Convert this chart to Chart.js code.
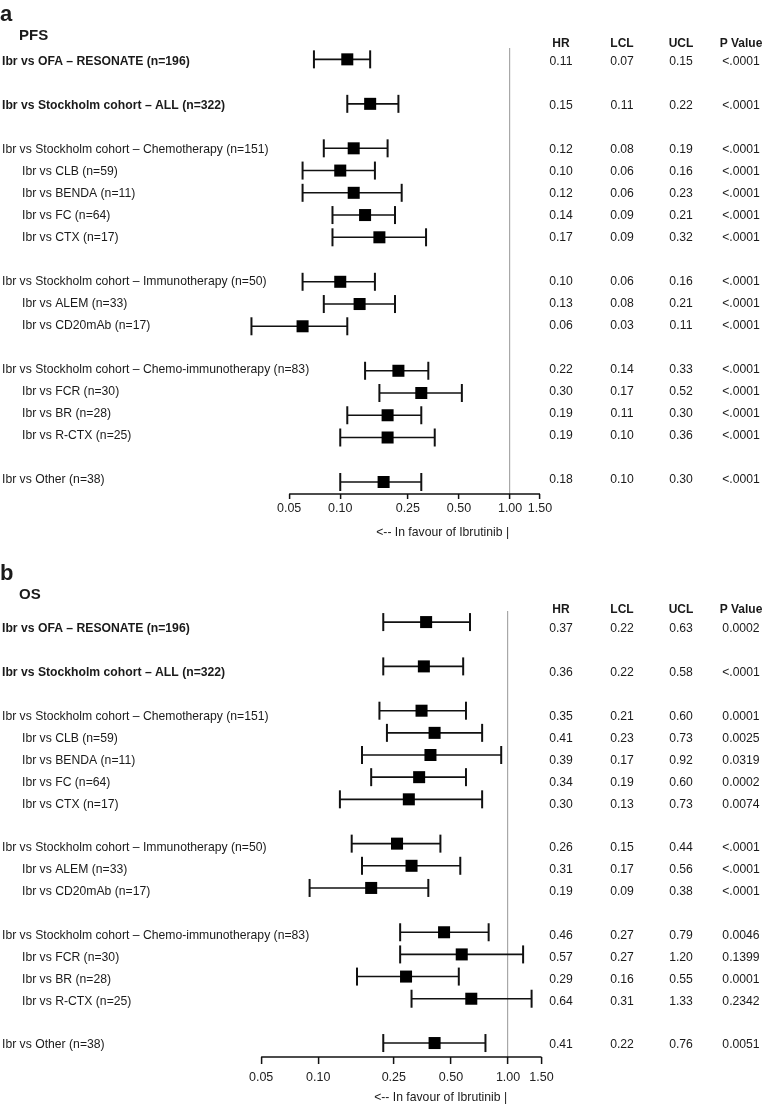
<!DOCTYPE html>
<html>
<head>
<meta charset="utf-8">
<script src="https://cdn.jsdelivr.net/npm/chart.js@4.4.1/dist/chart.umd.min.js"></script>
<style>
  html, body { margin: 0; padding: 0; background: #fff; }
  .panel { position: absolute; left: 0; }
</style>
</head>
<body>
<div class="panel" style="top:0"><canvas id="pfsChart" width="768" height="553"></canvas></div>
<div class="panel" style="top:553px"><canvas id="osChart" width="768" height="554"></canvas></div>
<script>
// rows of the forest plot ('' = blank spacer row)
const rowLabels = [
    'Ibr vs OFA \u2013 RESONATE (n=196)', '',
    'Ibr vs Stockholm cohort \u2013 ALL (n=322)', '',
    'Ibr vs Stockholm cohort \u2013 Chemotherapy (n=151)',
    'Ibr vs CLB (n=59)',
    'Ibr vs BENDA (n=11)',
    'Ibr vs FC (n=64)',
    'Ibr vs CTX (n=17)', '',
    'Ibr vs Stockholm cohort \u2013 Immunotherapy (n=50)',
    'Ibr vs ALEM (n=33)',
    'Ibr vs CD20mAb (n=17)', '',
    'Ibr vs Stockholm cohort \u2013 Chemo-immunotherapy (n=83)',
    'Ibr vs FCR (n=30)',
    'Ibr vs BR (n=28)',
    'Ibr vs R-CTX (n=25)', '',
    'Ibr vs Other (n=38)'
];
const boldRows = [0, 2];
const subRows = [5, 6, 7, 8, 11, 12, 15, 16, 17];
const xTicks = [0.05, 0.10, 0.25, 0.50, 1.00, 1.50];
const tableHeaders = ['HR', 'LCL', 'UCL', 'P Value'];

// PFS
const pfsHR  = [0.11, null, 0.15, null, 0.12, 0.10, 0.12, 0.14, 0.17, null, 0.10, 0.13, 0.06, null, 0.22, 0.30, 0.19, 0.19, null, 0.18];
const pfsLCL = [0.07, null, 0.11, null, 0.08, 0.06, 0.06, 0.09, 0.09, null, 0.06, 0.08, 0.03, null, 0.14, 0.17, 0.11, 0.10, null, 0.10];
const pfsUCL = [0.15, null, 0.22, null, 0.19, 0.16, 0.23, 0.21, 0.32, null, 0.16, 0.21, 0.11, null, 0.33, 0.52, 0.30, 0.36, null, 0.30];
const pfsP   = ['<.0001', '', '<.0001', '', '<.0001', '<.0001', '<.0001', '<.0001', '<.0001', '', '<.0001', '<.0001', '<.0001', '', '<.0001', '<.0001', '<.0001', '<.0001', '', '<.0001'];

// OS
const osHR  = [0.37, null, 0.36, null, 0.35, 0.41, 0.39, 0.34, 0.30, null, 0.26, 0.31, 0.19, null, 0.46, 0.57, 0.29, 0.64, null, 0.41];
const osLCL = [0.22, null, 0.22, null, 0.21, 0.23, 0.17, 0.19, 0.13, null, 0.15, 0.17, 0.09, null, 0.27, 0.27, 0.16, 0.31, null, 0.22];
const osUCL = [0.63, null, 0.58, null, 0.60, 0.73, 0.92, 0.60, 0.73, null, 0.44, 0.56, 0.38, null, 0.79, 1.20, 0.55, 1.33, null, 0.76];
const osP   = ['0.0002', '', '<.0001', '', '0.0001', '0.0025', '0.0319', '0.0002', '0.0074', '', '<.0001', '<.0001', '<.0001', '', '0.0046', '0.1399', '0.0001', '0.2342', '', '0.0051'];

const FONT = '"Liberation Sans", Arial, Helvetica, sans-serif';
const INK = '#1a1a1a';
const colX = [561, 622, 681, 741];

// texte : libellés, tableau, titres
const forestText = {
    id: 'forestText',
    afterDraw(chart, args, o) {
        const ctx = chart.ctx, ys = chart.scales.y, xs = chart.scales.x;
        ctx.save();
        ctx.fillStyle = INK;
        ctx.textBaseline = 'alphabetic';
        ctx.textAlign = 'left';
        ctx.font = 'bold 22px ' + FONT;
        ctx.fillText(o.letter, 0, o.letterY);
        ctx.font = 'bold 15px ' + FONT;
        ctx.fillText(o.title, 19, o.titleY);

        ctx.textAlign = 'center';
        ctx.font = 'bold 12px ' + FONT;
        tableHeaders.forEach((h, k) => ctx.fillText(h, colX[k], o.headerY));

        ctx.textBaseline = 'middle';
        const n = rowLabels.length - 1;
        rowLabels.forEach((lab, i) => {
            if (!lab) return;
            const shift = o.shiftTop + (o.shiftBottom - o.shiftTop) * i / n;
            const py = ys.getPixelForValue(i) + shift;
            ctx.textAlign = 'left';
            ctx.font = (boldRows.includes(i) ? 'bold ' : '') + '12.2px ' + FONT;
            ctx.fillText(lab, subRows.includes(i) ? 22 : 2, py);
            ctx.textAlign = 'center';
            ctx.font = '12.2px ' + FONT;
            [o.hr[i].toFixed(2), o.lcl[i].toFixed(2), o.ucl[i].toFixed(2), o.p[i]]
                .forEach((v, k) => ctx.fillText(v, colX[k], py));
        });

        ctx.textAlign = 'right';
        ctx.textBaseline = 'alphabetic';
        ctx.font = '12.2px ' + FONT;
        ctx.fillText('<-- In favour of Ibrutinib |', xs.getPixelForValue(1) - 1, o.axisTitleY);
        ctx.restore();
    }
};

function buildDatasets(hr, lcl, ucl, yMax) {
    const ds = [];
    // HR squares (first = drawn on top)
    ds.push({
        data: hr.map((v, i) => v == null ? null : { x: v, y: i }).filter(p => p),
        showLine: false,
        pointStyle: 'rect',
        pointRadius: 8.5,
        pointBackgroundColor: '#000',
        pointBorderWidth: 0,
        clip: false
    });
    // confidence intervals
    lcl.forEach((v, i) => {
        if (v == null) return;
        ds.push({
            data: [{ x: v, y: i }, { x: ucl[i], y: i }],
            showLine: true,
            borderColor: '#111',
            borderWidth: 1.6,
            pointStyle: 'line',
            rotation: 90,
            pointRadius: 9,
            pointBorderWidth: 2,
            pointBorderColor: '#111',
            clip: false
        });
    });
    // x axis line from 0.05 to 1.50
    ds.push({
        data: [{ x: xTicks[0], y: yMax }, { x: xTicks[xTicks.length - 1], y: yMax }],
        showLine: true,
        borderColor: '#111',
        borderWidth: 1.5,
        pointRadius: 0,
        clip: false
    });
    return ds;
}

function makeChart(id, p) {
    const ctx = document.getElementById(id).getContext('2d');
    return new Chart(ctx, {
        type: 'scatter',
        data: { datasets: buildDatasets(p.hr, p.lcl, p.ucl, p.yMax) },
        plugins: [forestText],
        options: {
            responsive: false,
            devicePixelRatio: 1,
            animation: false,
            events: [],
            layout: { padding: { left: p.left, right: p.right, top: p.top, bottom: 0 } },
            scales: {
                x: {
                    type: 'logarithmic',
                    min: 0.025,
                    max: 1.5,
                    afterBuildTicks: s => { s.ticks = xTicks.map(v => ({ value: v })); },
                    afterFit: s => { s.height = p.axisH; },
                    border: { display: false },
                    grid: {
                        drawOnChartArea: true,
                        drawTicks: true,
                        tickLength: p.tickLen,
                        color: c => (c.tick && c.tick.value === 1) ? '#a8a8a8' : 'rgba(0,0,0,0)',
                        tickColor: '#111',
                        tickWidth: 1.5,
                        lineWidth: 1.2
                    },
                    ticks: {
                        autoSkip: false,
                        maxRotation: 0,
                        padding: p.tickPad,
                        color: '#222',
                        font: { family: FONT, size: 12.5 },
                        callback: v => Number(v).toFixed(2)
                    }
                },
                y: {
                    type: 'linear',
                    display: false,
                    reverse: true,
                    min: p.yMin,
                    max: p.yMax
                }
            },
            plugins: {
                legend: { display: false },
                tooltip: { enabled: false },
                forestText: p.text
            }
        }
    });
}

// Panel a : PFS
makeChart('pfsChart', {
    hr: pfsHR, lcl: pfsLCL, ucl: pfsUCL,
    left: 238, right: 228, top: 48, axisH: 59, tickLen: 5, tickPad: 2,
    yMin: -0.51, yMax: 19.54,
    text: { letter: 'a', letterY: 21, title: 'PFS', titleY: 40, headerY: 47,
            shiftTop: 2, shiftBottom: -2, axisTitleY: 536,
            hr: pfsHR, lcl: pfsLCL, ucl: pfsUCL, p: pfsP }
});

// Panel b : OS
makeChart('osChart', {
    hr: osHR, lcl: osLCL, ucl: osUCL,
    left: 204, right: 226.5, top: 58, axisH: 50, tickLen: 7, tickPad: 6,
    yMin: -0.50, yMax: 19.63,
    text: { letter: 'b', letterY: 27, title: 'OS', titleY: 46, headerY: 60,
            shiftTop: 7, shiftBottom: 2, axisTitleY: 548,
            hr: osHR, lcl: osLCL, ucl: osUCL, p: osP }
});
</script>
</body>
</html>
